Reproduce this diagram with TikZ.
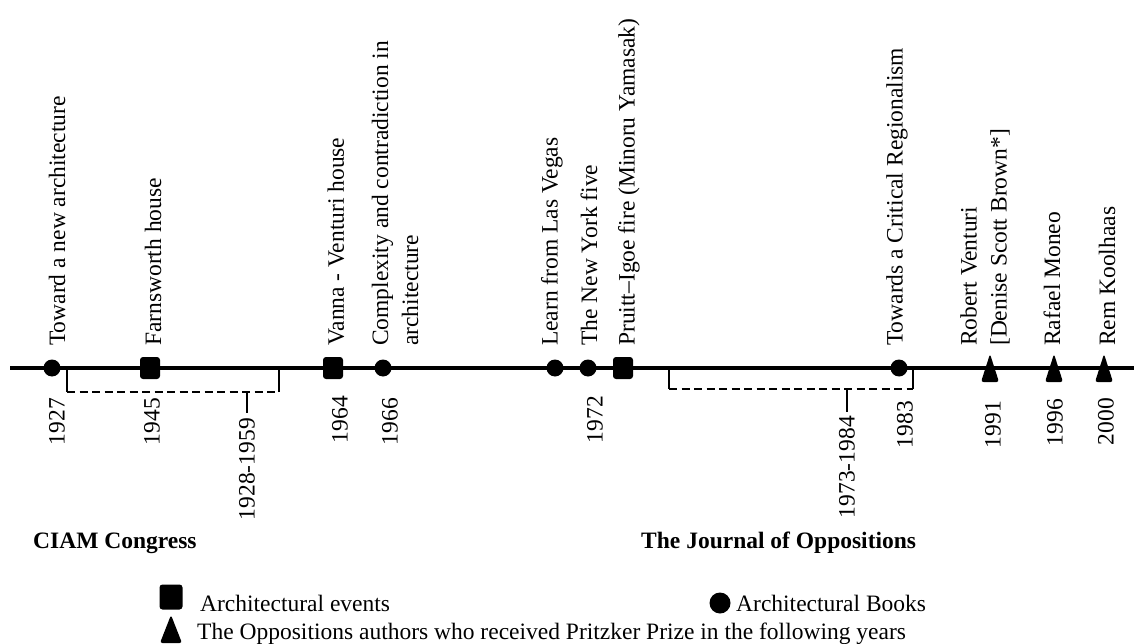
\documentclass[tikz,border=0pt]{standalone}
\usepackage{fontspec}
\setmainfont{Liberation Serif}

\begin{document}
\begin{tikzpicture}[x=1pt, y=-1pt,
	every node/.style={font=\fontsize{23.5}{30}\selectfont, inner sep=0pt},
	up/.style={rotate=90, anchor=west, align=left},
	year/.style={rotate=90, anchor=east},
	book/.style={circle, fill, minimum size=17pt},
	event/.style={rectangle, fill, rounded corners=3pt, minimum width=20pt, minimum height=22pt},
	period/.style={line width=1.3pt},
	group/.style={font=\fontsize{23.5}{30}\selectfont\bfseries, anchor=base west}]
	\useasboundingbox (0,0) rectangle (1134,644);

	% time line
	\coordinate (start) at (10,368);
	\coordinate (end) at (1134,368);
	\draw[line width=4pt] (start) -- (end);

	% CIAM period
	\coordinate (a1) at (67,368);
	\coordinate (a2) at (67,392);
	\coordinate (a3) at (279,392);
	\coordinate (a4) at (279,368);
	\coordinate (a5) at (247,392);
	\coordinate (a6) at (247,413);
	\draw[period] (a1) -- (a2);
	\draw[period, dash pattern=on 8pt off 4.5pt] (a2) -- (a3);
	\draw[period] (a3) -- (a4);
	\draw[period] (a5) -- (a6);

	% Oppositions period
	\coordinate (b1) at (669,368);
	\coordinate (b2) at (669,389);
	\coordinate (b3) at (913,389);
	\coordinate (b4) at (913,368);
	\coordinate (b5) at (847,389);
	\coordinate (b6) at (847,412);
	\draw[period] (b1) -- (b2);
	\draw[period, dash pattern=on 8pt off 4.5pt] (b2) -- (b3);
	\draw[period] (b3) -- (b4);
	\draw[period] (b5) -- (b6);

	% markers
	\node[book] at (52,368)(toward){};
	\node[event] at (150,368)(farns){};
	\node[event] at (333,368)(vanna){};
	\node[book] at (383,368)(complex){};
	\node[book] at (555,368)(vegas){};
	\node[book] at (588,368)(nyfive){};
	\node[event] at (623,368)(pruitt){};
	\node[book] at (899,368)(critical){};
	\foreach \x in {990,1054,1104}
		\fill[rounded corners=2.5pt] (\x-9,382) -- (\x,354) -- (\x+9,382) -- cycle;

	% labels
	\node[up] at (57,346)(ttoward){Toward a new architecture};
	\node[up] at (153,346)(tfarns){Farnsworth house};
	\node[up] at (336,346)(tvanna){Vanna - Venturi house};
	\node[up] at (395,346)(tcomplex){Complexity and contradiction in\\architecture};
	\node[up] at (552,346)(tvegas){Learn from Las Vegas};
	\node[up] at (589,346)(tnyfive){The New York five};
	\node[up] at (629,346)(tpruitt){Pruitt--Igoe fire (Minoru Yamasak)};
	\node[up] at (897,346)(tcritical){Towards a Critical Regionalism};
	\node[up] at (985,346)(tventuri){Robert Venturi\\{[}Denise Scott Brown*{]}};
	\node[up] at (1052,346)(tmoneo){Rafael Moneo};
	\node[up] at (1107,346)(tkoolhaas){Rem Koolhaas};

	% years
	\node[year] at (57,398)(y1927){1927};
	\node[year] at (152,398)(y1945){1945};
	\node[year] at (340,396)(y1964){1964};
	\node[year] at (390,398)(y1966){1966};
	\node[year] at (595,396)(y1972){1972};
	\node[year] at (905,401)(y1983){1983};
	\node[year] at (993,401)(y1991){1991};
	\node[year] at (1055,399)(y1996){1996};
	\node[year] at (1106,398)(y2000){2000};
	\node[year] at (247,418)(y2859){1928-1959};
	\node[year] at (847,416)(y7384){1973-1984};

	\node[group] at (33,548)(ciam){CIAM Congress};
	\node[group] at (641,548)(journal){The Journal of Oppositions};

	% legend
	\node[event, minimum width=23pt, minimum height=25pt] at (171,597)(lgevent){};
	\node[anchor=base west] at (200,611)(lgeventtxt){Architectural events};
	\node[book, minimum size=21pt] at (720,603)(lgbook){};
	\node[anchor=base west] at (736,611)(lgbooktxt){Architectural Books};
	\fill[rounded corners=2.5pt] (160,643) -- (171,615) -- (182,643) -- cycle;
	\node[anchor=base west] at (197,639)(lgprizetxt){The Oppositions authors who received Pritzker Prize in the following years};
\end{tikzpicture}
\end{document}
